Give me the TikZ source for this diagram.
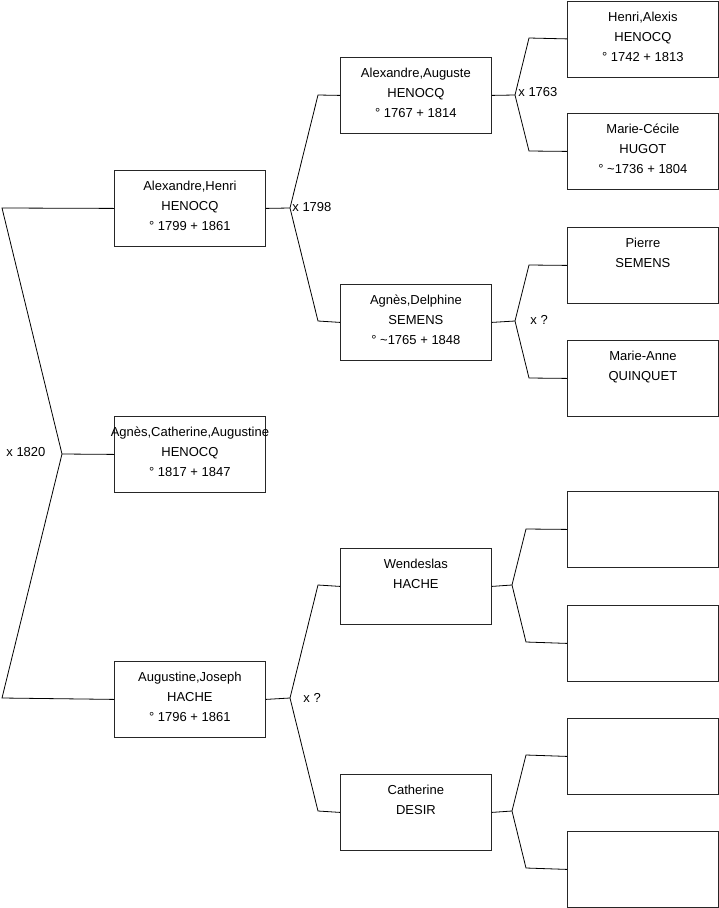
\documentclass[tikz,border=0pt]{standalone}
\usepackage{fontspec}
\setmainfont{Liberation Sans}

\begin{document}
\begin{tikzpicture}[x=1pt,y=-1pt,line width=0.8pt,
    person/.style={draw=black!85,anchor=north west,minimum width=151pt,minimum height=76pt,
        inner sep=0pt,align=center,text depth=5pt,font=\fontsize{13}{20}\selectfont},
    union/.style={anchor=west,inner sep=0pt,font=\fontsize{13}{16}\selectfont}]
    \useasboundingbox (0,0) rectangle (719,908);
    %
    \node[person] (ah)  at (114,170) {Alexandre,Henri\\HENOCQ\\° 1799 + 1861};
    \node[person] (aca) at (114,416) {\makebox[0pt]{Agnès,Catherine,Augustine}\\HENOCQ\\° 1817 + 1847};
    \node[person] (aj)  at (114,661) {Augustine,Joseph\\HACHE\\° 1796 + 1861};
    %
    \node[person] (aa) at (340,57)  {Alexandre,Auguste\\HENOCQ\\° 1767 + 1814};
    \node[person] (ad) at (340,284) {Agnès,Delphine\\SEMENS\\° \textasciitilde1765 + 1848};
    \node[person] (wh) at (340,548) {Wendeslas\\HACHE\\\strut};
    \node[person] (cd) at (340,774) {Catherine\\DESIR\\\strut};
    %
    \node[person] (ha)  at (567,0.5) {Henri,Alexis\\HENOCQ\\° 1742 + 1813};
    \node[person] (mch) at (567,113) {Marie-Cécile\\HUGOT\\° \textasciitilde1736 + 1804};
    \node[person] (ps)  at (567,227) {Pierre\\SEMENS\\\strut};
    \node[person] (maq) at (567,340) {Marie-Anne\\QUINQUET\\\strut};
    \node[person] (e1)  at (567,491) {};
    \node[person] (e2)  at (567,605) {};
    \node[person] (e3)  at (567,718) {};
    \node[person] (e4)  at (567,831) {};
    %
    \coordinate (m0) at (62,454);
    \coordinate (m0a) at (2,208);
    \coordinate (m0b) at (2,698);
    \coordinate (m1) at (290,208);
    \coordinate (m1a) at (318,95);
    \coordinate (m1b) at (318,321);
    \coordinate (m2) at (515,95);
    \coordinate (m2a) at (529,38);
    \coordinate (m2b) at (529,151);
    \coordinate (m3) at (515,321);
    \coordinate (m3a) at (529,265);
    \coordinate (m3b) at (529,378);
    \coordinate (m4) at (290,698);
    \coordinate (m4a) at (318,585);
    \coordinate (m4b) at (318,811);
    \coordinate (m5) at (512,585);
    \coordinate (m5a) at (526,529);
    \coordinate (m5b) at (526,642);
    \coordinate (m6) at (512,811);
    \coordinate (m6a) at (526,755);
    \coordinate (m6b) at (526,868);
    %
    \draw (ah.west) -- (m0a) -- (m0) -- (m0b) -- (aj.west);
    \draw (m0) -- (aca.west);
    \draw (ah.east) -- (m1);
    \draw (aa.west) -- (m1a) -- (m1) -- (m1b) -- (ad.west);
    \draw (aa.east) -- (m2);
    \draw (ha.west) -- (m2a) -- (m2) -- (m2b) -- (mch.west);
    \draw (ad.east) -- (m3);
    \draw (ps.west) -- (m3a) -- (m3) -- (m3b) -- (maq.west);
    \draw (aj.east) -- (m4);
    \draw (wh.west) -- (m4a) -- (m4) -- (m4b) -- (cd.west);
    \draw (wh.east) -- (m5);
    \draw (e1.west) -- (m5a) -- (m5) -- (m5b) -- (e2.west);
    \draw (cd.east) -- (m6);
    \draw (e3.west) -- (m6a) -- (m6) -- (m6b) -- (e4.west);
    %
    \node[union] (u0) at (6,452) {x 1820};
    \node[union] (u1) at (292,207) {x 1798};
    \node[union] (u2) at (518,92) {x 1763};
    \node[union] (u3) at (530,320) {x ?};
    \node[union] (u4) at (303,698) {x ?};
    %
\end{tikzpicture}
\end{document}
